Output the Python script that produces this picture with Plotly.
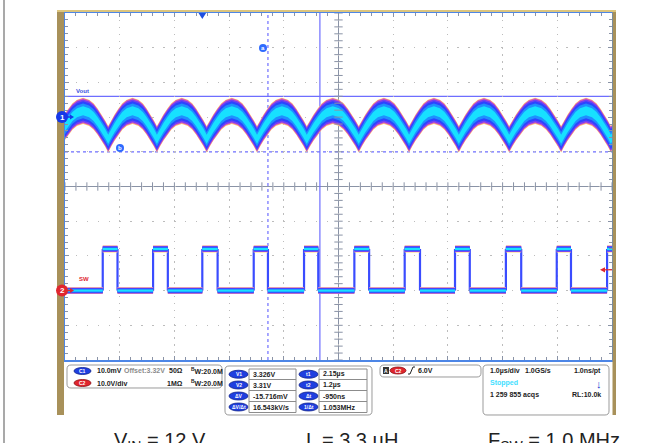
import plotly.graph_objects as go
import numpy as np

W, H = 662, 443
ML, MR, MT, MB = 65, 50, 13, 83
PW, PH = W - ML - MR, H - MT - MB


def px(x):
    return (x - ML) / PW


def py(y):
    return (H - MB - y) / PH


# ---------------- data ----------------
# Channel 1: Vout ripple (10 mV/div, offset 3.32 V) - times (us, vs trigger) of ripple minima
vout_trough_t = [-2.64, -1.72, -0.83, 0.08, 1.00, 1.91, 2.86, 3.78, 4.69, 5.61, 6.56, 7.47, 8.40]
# shape of one ripple cycle: trough -> peak -> trough
vout_cycle_phase = [0, 0.06, 0.13, 0.21, 0.29, 0.38, 0.5, 0.62, 0.71, 0.79, 0.87, 0.94, 1.0]
vout_cycle_level = [0, 0.20, 0.41, 0.62, 0.80, 0.93, 1.0, 0.93, 0.80, 0.62, 0.41, 0.20, 0]
vout_trough_v = 3.3136
vout_peak_v = 3.3218
# Channel 2: switch node (10 V/div)
sw_rise_t = [-1.82, -0.90, 0.00, 0.94, 1.86, 2.78, 3.70, 4.62, 5.55, 6.48, 7.40]
sw_fall_t = [-1.55, -0.63, 0.28, 1.20, 2.12, 3.05, 3.98, 4.89, 5.83, 6.74, 7.70]
sw_low_v = 0.0
sw_high_v = 12.0
# cursors
cursor_v = [3.326, 3.31]
cursor_t = [2.15, 1.2]
trigger_level_v = 6.0

# readouts
ch_rows = [("C1", "10.0mV", "Offset:3.32V", "50Ω", "<sup>B</sup>W:20.0M"),
           ("C2", "10.0V/div", "", "1MΩ", "<sup>B</sup>W:20.0M")]
cur_left = [("V1", "3.326V"), ("V2", "3.31V"), ("ΔV", "-15.716mV"), ("ΔV/Δt", "16.543kV/s")]
cur_right = [("t1", "2.15µs"), ("t2", "1.2µs"), ("Δt", "-950ns"), ("1/Δt", "1.053MHz")]
captions = ["V<sub>IN</sub> = 12 V", "L = 3.3 µH", "F<sub>SW</sub> = 1.0 MHz"]

# ---------------- scales ----------------
T_CENTER = 2.49
x_range = [T_CENTER - 5, T_CENTER + 5]
V_OFFSET, V_SCALE, V_POS = 3.32, 0.01, 2.0
y_range = [V_OFFSET - (5 + V_POS) * V_SCALE, V_OFFSET + (5 - V_POS) * V_SCALE]
SW_SCALE, SW_POS = 10.0, -3.0
y2_range = [-(5 + SW_POS) * SW_SCALE, (5 - SW_POS) * SW_SCALE]

fig = go.Figure()

# ---------------- SW trace ----------------
ex, ey = [], []
for r in sw_rise_t:
    ex += [r, r, None]; ey += [sw_low_v, sw_high_v, None]
for f in sw_fall_t:
    ex += [f, f, None]; ey += [sw_high_v, sw_low_v, None]
fig.add_trace(go.Scatter(x=ex, y=ey, yaxis="y2", mode="lines",
                         line=dict(color="#3a4cff", width=2.2), hoverinfo="skip", showlegend=False))

segs = [(x_range[0], sw_rise_t[0], sw_low_v)]
for i, r in enumerate(sw_rise_t):
    f = sw_fall_t[i]
    segs.append((r, f, sw_high_v))
    if i + 1 < len(sw_rise_t):
        segs.append((f, sw_rise_t[i + 1], sw_low_v))

sw_layers = [(1.0, "#ffd27a"), (0.9, "#c85ad0"), (0.78, "#6a40f5"), (0.62, "#2d44ff"),
             (0.45, "#1f8fff"), (0.28, "#18e0ff")]
for hw, col in sw_layers:
    xs, ys = [], []
    for a, b, lv in segs:
        xs += [a, b, b, a, a, None]
        ys += [lv + hw, lv + hw, lv - hw, lv - hw, lv + hw, None]
    fig.add_trace(go.Scatter(x=xs, y=ys, yaxis="y2", mode="lines", fill="toself",
                             fillcolor=col, line=dict(width=0), hoverinfo="skip", showlegend=False))

# ---------------- Vout trace ----------------
vt, vv = [], []
for a, b in zip(vout_trough_t[:-1], vout_trough_t[1:]):
    for p, l in zip(vout_cycle_phase[:-1], vout_cycle_level[:-1]):
        vt.append(a + p * (b - a))
        vv.append(vout_trough_v + l * (vout_peak_v - vout_trough_v))
vt.append(vout_trough_t[-1]); vv.append(vout_trough_v)
vt = np.array(vt); vv = np.array(vv)

v_layers = [(0.0038, "#ffcf70"), (0.0036, "#d85ab8"), (0.0033, "#7440f2"), (0.0028, "#2d44ff"),
            (0.0021, "#1f8fff"), (0.0013, "#17e1ff")]
for hw, col in v_layers:
    fig.add_trace(go.Scatter(x=np.concatenate([vt, vt[::-1]]),
                             y=np.concatenate([vv + hw, (vv - hw)[::-1]]),
                             mode="lines", fill="toself", fillcolor=col, line=dict(width=0),
                             hoverinfo="skip", showlegend=False))

# ---------------- graticule centre ticks ----------------
tick_col = "#8a93a6"
xt = np.arange(x_range[0], x_range[1] + 1e-9, 0.2)
yt = np.arange(y_range[0], y_range[1] + 1e-9, V_SCALE / 5)
y_mid = (y_range[0] + y_range[1]) / 2
fig.add_trace(go.Scatter(x=xt, y=[y_mid] * len(xt), mode="markers",
                         marker=dict(symbol="line-ns", size=6, line=dict(width=1, color=tick_col)),
                         hoverinfo="skip", showlegend=False))
fig.add_trace(go.Scatter(x=[T_CENTER] * len(yt), y=yt, mode="markers",
                         marker=dict(symbol="line-ew", size=6, line=dict(width=1, color=tick_col)),
                         hoverinfo="skip", showlegend=False))

shapes = []
annots = []

# centre lines
shapes.append(dict(type="line", xref="x", yref="paper", x0=T_CENTER, x1=T_CENTER, y0=0, y1=1,
                   line=dict(color=tick_col, width=1), layer="between"))
shapes.append(dict(type="line", xref="paper", yref="y", x0=0, x1=1, y0=y_mid, y1=y_mid,
                   line=dict(color=tick_col, width=1), layer="between"))

# cursors
cur_col = "#6e6eff"
for i, (tv, vv_) in enumerate(zip(cursor_t, cursor_v)):
    dash = "solid" if i == 0 else "dot"
    shapes.append(dict(type="line", xref="x", yref="paper", x0=tv, x1=tv, y0=0, y1=1,
                       line=dict(color=cur_col, width=1.2, dash=dash), layer="between"))
    shapes.append(dict(type="line", xref="paper", yref="y", x0=0, x1=1, y0=vv_, y1=vv_,
                       line=dict(color=cur_col, width=1.2, dash=dash), layer="between"))

# frame: left grey page line, tan bezel
shapes.append(dict(type="line", xref="paper", yref="paper", x0=px(4), x1=px(4), y0=py(0), y1=py(443),
                   line=dict(color="#8c8c8c", width=1.5)))
tan = "#a8915a"
shapes.append(dict(type="rect", xref="paper", yref="paper", x0=px(57), x1=px(64), y0=py(10), y1=py(415),
                   fillcolor=tan, line=dict(width=0)))
shapes.append(dict(type="rect", xref="paper", yref="paper", x0=px(612.5), x1=px(616), y0=py(10), y1=py(415),
                   fillcolor=tan, line=dict(width=0)))
shapes.append(dict(type="rect", xref="paper", yref="paper", x0=px(57), x1=px(616), y0=py(10), y1=py(12),
                   fillcolor="#dcc57e", line=dict(width=0)))


def rrect(x0, y0, x1, y1, r):
    P = lambda x, y: f"{px(x):.5f},{py(y):.5f}"
    return (f"M{P(x0 + r, y0)} L{P(x1 - r, y0)} Q{P(x1, y0)} {P(x1, y0 + r)} "
            f"L{P(x1, y1 - r)} Q{P(x1, y1)} {P(x1 - r, y1)} L{P(x0 + r, y1)} "
            f"Q{P(x0, y1)} {P(x0, y1 - r)} L{P(x0, y0 + r)} Q{P(x0, y0)} {P(x0 + r, y0)} Z")


def text(x, y, s, size=7, color="#222222", anchor="left", bold=True, family="Liberation Sans"):
    annots.append(dict(xref="paper", yref="paper", x=px(x), y=py(y), text=(f"<b>{s}</b>" if bold else s),
                       showarrow=False, xanchor=anchor, yanchor="middle",
                       font=dict(size=size, color=color, family=family)))


def pill(x0, x1, yc, label, fill, h=7):
    shapes.append(dict(type="circle", xref="paper", yref="paper", x0=px(x0), x1=px(x1),
                       y0=py(yc - h / 2), y1=py(yc + h / 2), fillcolor=fill,
                       line=dict(color="#0d1f8a" if fill != "#e0262e" else "#8a0d12", width=0.8)))
    text((x0 + x1) / 2, yc, label, size=5, color="white", anchor="center")


def arrow_right(x0, x1, yc, col):
    shapes.append(dict(type="line", xref="paper", yref="paper", x0=px(x0), x1=px(x1 - 3), y0=py(yc), y1=py(yc),
                       line=dict(color=col, width=1.5)))
    shapes.append(dict(type="path", xref="paper", yref="paper",
                       path=f"M{px(x1 - 4)},{py(yc - 2.5)} L{px(x1)},{py(yc)} L{px(x1 - 4)},{py(yc + 2.5)} Z",
                       fillcolor=col, line=dict(width=0)))


box_col = "#9b9b9b"
for b in [(67, 365, 222, 388), (225, 366, 372, 415), (380, 365, 481, 377), (483, 365, 609, 415)]:
    shapes.append(dict(type="path", xref="paper", yref="paper", path=rrect(*b, 4),
                       line=dict(color=box_col, width=1)))

# channel box
for (lab, s1, s2, s3, s4), yc, fc in zip(ch_rows, [371, 383], ["#1f3fe0", "#e0262e"]):
    pill(74, 91, yc, lab, fc)
    text(95, yc, s1)
    if s2:
        text(122, yc, s2, color="#8c8c8c")
    text(185, yc, s3, anchor="right")
    text(189, yc, s4)

# cursor table
rows_y = [369, 379.5, 390.5, 401.5, 412.5]
for i in range(4):
    yc = (rows_y[i] + rows_y[i + 1]) / 2
    pill(229, 248, yc, cur_left[i][0], "#1f3fe0", h=8)
    pill(299, 318, yc, cur_right[i][0], "#1f3fe0", h=8)
    text(251, yc, cur_left[i][1])
    text(321, yc, cur_right[i][1])
for x0, x1 in [(249, 296), (319, 367)]:
    shapes.append(dict(type="rect", xref="paper", yref="paper", x0=px(x0), x1=px(x1),
                       y0=py(rows_y[0]), y1=py(rows_y[-1]), line=dict(color="#8c8c8c", width=1)))
    for yy in rows_y[1:-1]:
        shapes.append(dict(type="line", xref="paper", yref="paper", x0=px(x0), x1=px(x1),
                           y0=py(yy), y1=py(yy), line=dict(color="#8c8c8c", width=1)))

# trigger box
shapes.append(dict(type="rect", xref="paper", yref="paper", x0=px(383), x1=px(389), y0=py(367), y1=py(374),
                   fillcolor="#333333", line=dict(width=0)))
text(386, 370.5, "A", size=5, color="white", anchor="center")
pill(390, 406, 370.5, "C2", "#e0262e")
shapes.append(dict(type="path", xref="paper", yref="paper",
                   path=f"M{px(408)},{py(374)} L{px(410)},{py(374)} L{px(413)},{py(367)} L{px(415)},{py(367)}",
                   line=dict(color="#222222", width=1)))
text(416, 370.5, "6.0V")

# horizontal box
text(488, 371, "1.0µs/div")
text(523, 371, "1.0GS/s")
text(603, 371, "1.0ns/pt", anchor="right")
text(488, 383, "Stopped", color="#3fe0ff")
text(599, 384, "↓", size=11, color="#1a3cd0", anchor="center")
text(488, 394.5, "1 259 855 acqs")
text(603, 394.5, "RL:10.0k", anchor="right")

# channel markers
for yc, fc, lab in [(117, "#1538e8", "1"), (290.5, "#e0262e", "2")]:
    arrow_right(66, 74, yc, fc)
    shapes.append(dict(type="circle", xref="paper", yref="paper", x0=px(56), x1=px(68),
                       y0=py(yc - 6), y1=py(yc + 6), fillcolor=fc, line=dict(width=0)))
    text(62, yc, lab, size=8, color="white", anchor="center")

text(74, 91, "Vout", size=6, color="#3a50e0")
text(77, 278.5, "SW", size=6, color="#e0262e")

# cursor labels
for xc, yc, lab in [(263, 48, "a"), (120, 148, "b")]:
    shapes.append(dict(type="circle", xref="paper", yref="paper", x0=px(xc - 4), x1=px(xc + 4),
                       y0=py(yc - 4), y1=py(yc + 4), fillcolor="#2f6bff", line=dict(width=0)))
    text(xc, yc, lab, size=6, color="white", anchor="center")

# trigger position (top) and trigger level (right)
shapes.append(dict(type="path", xref="x", yref="paper",
                   path=f"M{-0.07},{py(13)} L{0.07},{py(13)} L0,{py(19)} Z",
                   fillcolor="#1f4fe0", line=dict(width=0)))
shapes.append(dict(type="line", xref="paper", yref="y2", x0=px(604), x1=px(612),
                   y0=trigger_level_v, y1=trigger_level_v, line=dict(color="#e0262e", width=1.2)))
shapes.append(dict(type="path", xref="paper", yref="y2",
                   path=f"M{px(600)},{trigger_level_v} L{px(605)},{trigger_level_v + 0.75} "
                        f"L{px(605)},{trigger_level_v - 0.75} Z",
                   fillcolor="#e0262e", line=dict(width=0)))

# captions
for xl, s in zip([112, 304, 486], captions):
    annots.append(dict(xref="paper", yref="paper", x=px(xl), y=py(427), text=s, showarrow=False,
                       xanchor="left", yanchor="top",
                       font=dict(size=20, color="#222222", family="Liberation Sans")))

axis_common = dict(showticklabels=False, zeroline=False, showline=True, linecolor="#4d86e6", linewidth=2,
                   mirror="ticks", ticks="inside", ticklen=4, tickcolor=tick_col, gridcolor="#bcbcbc",
                   gridwidth=1, fixedrange=True)
fig.update_layout(
    width=W, height=H, margin=dict(l=ML, r=MR, t=MT, b=MB),
    paper_bgcolor="white", plot_bgcolor="white",
    xaxis=dict(range=x_range, tick0=x_range[0], dtick=1, griddash="1.5px,5.4px",
               minor=dict(dtick=0.2, tick0=x_range[0], ticks="inside", ticklen=3, tickcolor=tick_col,
                          showgrid=False), **axis_common),
    yaxis=dict(range=y_range, tick0=y_range[0], dtick=V_SCALE, griddash="1.5px,9.4px",
               minor=dict(dtick=V_SCALE / 5, tick0=y_range[0], ticks="inside", ticklen=3, tickcolor=tick_col,
                          showgrid=False), **axis_common),
    yaxis2=dict(range=y2_range, overlaying="y", visible=False, fixedrange=True),
    shapes=shapes, annotations=annots, showlegend=False,
)
fig.write_html("out.html", config={"displayModeBar": False},
               post_script="document.body.style.margin='0';")
